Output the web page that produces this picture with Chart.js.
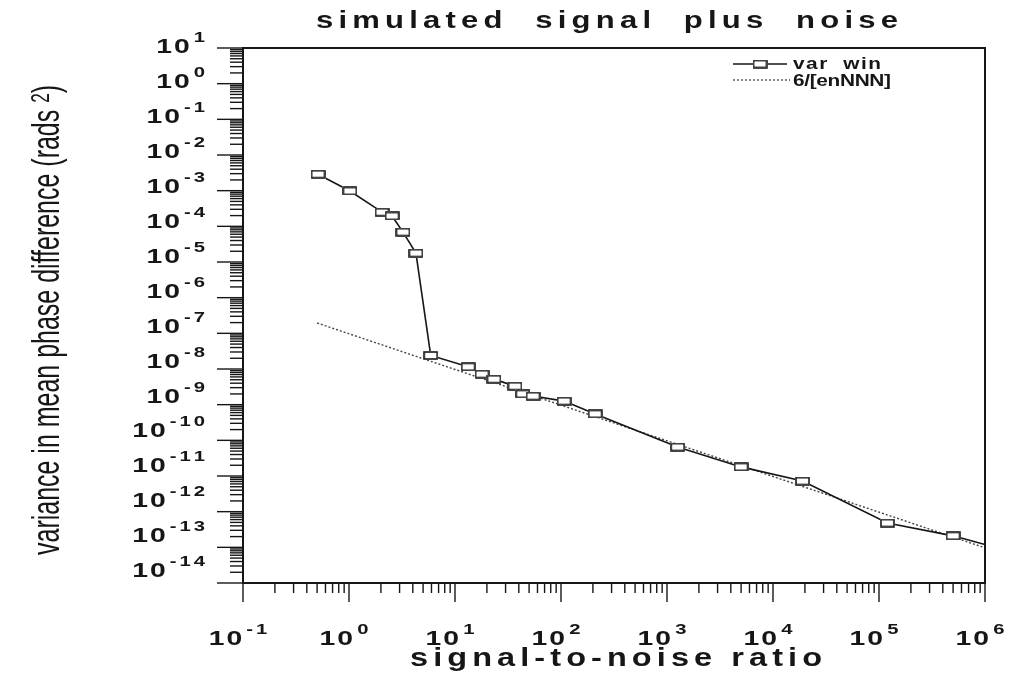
<!DOCTYPE html>
<html>
<head>
<meta charset="utf-8">
<script src="https://cdn.jsdelivr.net/npm/chart.js@4.4.1/dist/chart.umd.min.js"></script>
<style>
  html, body { margin: 0; padding: 0; background: #fff; }
  #c { display: block; }
</style>
</head>
<body>
<canvas id="c" width="1012" height="679"></canvas>
<script>
// texts
const chartTitle = 'simulated  signal  plus  noise';
const xTitle = 'signal-to-noise ratio';
const yTitle = 'variance in mean phase difference (rads ';
const yTitleSup = '2';
const seriesLabels = ['var  win', '6/[enNNN]'];

// tick labels are powers of ten
const xTickExps = [-1, 0, 1, 2, 3, 4, 5, 6];
const yTickExps = [1, 0, -1, -2, -3, -4, -5, -6, -7, -8, -9, -10, -11, -12, -13, -14];

const snr = [0.51, 1.02, 2.05, 2.55, 3.23, 4.28, 5.9, 13.3, 18, 23.3, 36.8, 43.6, 54.5,
  107, 210, 1260, 5000, 19000, 120000, 500000, 1000000];
const varWin = [2.9e-3, 9.8e-4, 2.5e-4, 1.95e-4, 6.9e-5, 1.78e-5, 2.4e-8, 1.15e-8, 7.2e-9,
  5.2e-9, 3.3e-9, 2.0e-9, 1.74e-9, 1.26e-9, 5.5e-10, 6.5e-11, 1.8e-11, 7.2e-12, 4.8e-13,
  2.1e-13, 1.2e-13];

// theory line
const theorySnr = [0.5, 10, 1000, 1000000];
const theoryVar = [1.95e-7, 9.7e-9, 9.7e-11, 9.7e-14];

const ink = '#161616';
const FONT = '"Liberation Sans", Arial, sans-serif';

function boxMarker() {
  const m = document.createElement('canvas');
  m.width = 15; m.height = 9;
  const g = m.getContext('2d');
  g.fillStyle = '#fff';
  g.fillRect(0, 0, 15, 9);
  g.strokeStyle = ink;
  g.lineWidth = 1.6;
  g.strokeRect(1, 1, 13, 7);
  return m;
}
const marker = boxMarker();

// widened glyphs; spread to a width, or a fixed gap when width is 0
function charWidths(ctx, text, h) {
  return [...text].map(ch => ctx.measureText(ch).width * h);
}
function spaced(ctx, text, x, y, width, h, fixedGap) {
  const ws = charWidths(ctx, text, h);
  const total = ws.reduce((a, b) => a + b, 0);
  const gap = width && text.length > 1 ? (width - total) / (text.length - 1) : (fixedGap || 1);
  let cx = x;
  [...text].forEach((ch, i) => {
    ctx.save();
    ctx.translate(cx, y);
    ctx.scale(h, 1);
    ctx.fillText(ch, 0, 0);
    ctx.restore();
    cx += ws[i] + gap;
  });
}
function naturalWidth(ctx, text, h, gap) {
  const ws = charWidths(ctx, text, h);
  return ws.reduce((a, b) => a + b, 0) + (text.length - 1) * gap;
}

function pow10(ctx, exp, x, y, align) {
  const sup = String(exp);
  ctx.font = 'bold 21px ' + FONT;
  const wb = naturalWidth(ctx, '10', 1.35, 2);
  ctx.font = 'bold 15px ' + FONT;
  const we = naturalWidth(ctx, sup, 1.35, 3);
  const total = wb + 4 + we;
  const left = align === 'right' ? x - total : x - total / 2;
  ctx.font = 'bold 21px ' + FONT;
  spaced(ctx, '10', left, y, 0, 1.35, 2);
  ctx.font = 'bold 15px ' + FONT;
  spaced(ctx, sup, left + wb + 4, y - 11, 0, 1.35, 3);
}

const paperPlugin = {
  id: 'paper',
  afterDraw(chart) {
    const ctx = chart.ctx;
    const a = chart.chartArea;
    const xs = chart.scales.x, ys = chart.scales.y;
    ctx.save();
    ctx.strokeStyle = ink;
    ctx.fillStyle = ink;
    ctx.textBaseline = 'alphabetic';
    ctx.textAlign = 'left';

    // frame
    ctx.lineWidth = 2;
    ctx.strokeRect(a.left, a.top, a.right - a.left, a.bottom - a.top);

    // x ticks
    ctx.lineWidth = 1.4;
    for (let e = xTickExps[0]; e <= xTickExps[xTickExps.length - 1]; e++) {
      for (let k = 1; k <= 9; k++) {
        const v = k * Math.pow(10, e);
        if (v > xs.max * 1.0001) break;
        const px = xs.getPixelForValue(v);
        const len = k === 1 ? 19 : 10;
        ctx.beginPath(); ctx.moveTo(px, a.bottom); ctx.lineTo(px, a.bottom + len); ctx.stroke();
      }
    }
    // y ticks
    for (let e = -14; e <= 1; e++) {
      for (let k = 1; k <= 9; k++) {
        const v = k * Math.pow(10, e);
        if (v > ys.max * 1.0001) break;
        const py = ys.getPixelForValue(v);
        const len = k === 1 ? 26 : 13;
        ctx.beginPath(); ctx.moveTo(a.left, py); ctx.lineTo(a.left - len, py); ctx.stroke();
      }
    }

    // tick labels
    xTickExps.forEach(e => {
      const px = xs.getPixelForValue(Math.pow(10, e));
      pow10(ctx, e, px - 5, a.bottom + 62, 'center');
    });
    yTickExps.forEach(e => {
      const py = ys.getPixelForValue(Math.pow(10, e));
      const ly = a.top - 3 + (py - a.top) * 0.98;
      pow10(ctx, e, a.left - 38, ly + 8, 'right');
    });

    // title
    ctx.font = 'bold 23px ' + FONT;
    spaced(ctx, chartTitle, 316, 28, 582, 1.35);

    // x title
    ctx.font = 'bold 25px ' + FONT;
    spaced(ctx, xTitle, 410, 666, 412, 1.3);

    // y title (condensed)
    ctx.save();
    ctx.translate(59, 320);
    ctx.rotate(-Math.PI / 2);
    ctx.font = '38px ' + FONT;
    const w1 = ctx.measureText(yTitle).width;
    ctx.font = '26px ' + FONT;
    const w2 = ctx.measureText(yTitleSup).width;
    ctx.font = '38px ' + FONT;
    const w3 = ctx.measureText(')').width;
    const sx = 470 / (w1 + w2 + w3);
    ctx.scale(sx, 1);
    let cx = -(w1 + w2 + w3) / 2;
    ctx.fillText(yTitle, cx, 0); cx += w1;
    ctx.font = '26px ' + FONT;
    ctx.fillText(yTitleSup, cx, -10); cx += w2;
    ctx.font = '38px ' + FONT;
    ctx.fillText(')', cx, 0);
    ctx.restore();

    // legend
    const lx = 733, ly1 = 64, ly2 = 80;
    ctx.lineWidth = 1.6;
    ctx.beginPath(); ctx.moveTo(lx, ly1); ctx.lineTo(lx + 54, ly1); ctx.stroke();
    ctx.drawImage(marker, lx + 27 - 7.5, ly1 - 4.5);
    ctx.strokeStyle = '#444';
    ctx.lineWidth = 1.3;
    ctx.setLineDash([2, 2]);
    ctx.beginPath(); ctx.moveTo(lx, ly2); ctx.lineTo(lx + 57, ly2); ctx.stroke();
    ctx.setLineDash([]);
    ctx.font = 'bold 16px ' + FONT;
    spaced(ctx, seriesLabels[0], lx + 60, ly1 + 5, 88, 1.3);
    spaced(ctx, seriesLabels[1], lx + 60, ly2 + 6, 98, 1.3);

    ctx.restore();
  }
};

new Chart(document.getElementById('c'), {
  type: 'line',
  data: {
    datasets: [
      {
        label: seriesLabels[0],
        data: snr.map((x, i) => ({ x, y: varWin[i] })),
        borderColor: ink,
        borderWidth: 1.6,
        tension: 0,
        pointStyle: marker,
        pointRadius: c => (c.raw && c.raw.x >= 1e6 ? 0 : 5),
        order: 0
      },
      {
        label: seriesLabels[1],
        data: theorySnr.map((x, i) => ({ x, y: theoryVar[i] })),
        borderColor: '#444',
        borderWidth: 1.4,
        borderDash: [2, 2],
        pointRadius: 0,
        tension: 0,
        order: 1
      }
    ]
  },
  options: {
    responsive: false,
    animation: false,
    layout: { padding: { left: 243, right: 27, top: 48, bottom: 96 } },
    plugins: { legend: { display: false }, title: { display: false }, tooltip: { enabled: false } },
    scales: {
      x: { type: 'logarithmic', min: 0.1, max: 1e6, display: false },
      y: { type: 'logarithmic', min: 1e-14, max: 10, display: false }
    }
  },
  plugins: [paperPlugin]
});
</script>
</body>
</html>
